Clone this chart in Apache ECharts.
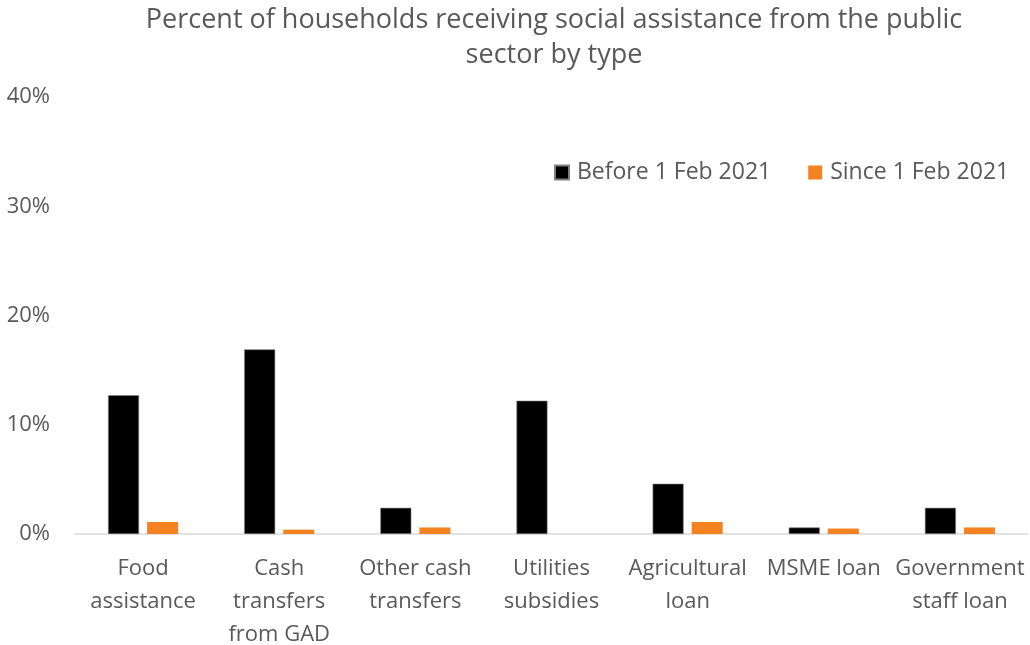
<!DOCTYPE html>
<html>
<head>
<meta charset="utf-8">
<script src="https://cdn.jsdelivr.net/npm/echarts@6/dist/echarts.min.js"></script>
<style>
  html, body { margin: 0; padding: 0; background: #fff; }
  #chart { width: 1030px; height: 645px; }
</style>
</head>
<body>
<div id="chart"></div>
<script>
// Assistance types shown along the x-axis
const categories = [
  'Food\nassistance',
  'Cash\ntransfers\nfrom GAD',
  'Other cash\ntransfers',
  'Utilities\nsubsidies',
  'Agricultural\nloan',
  'MSME loan',
  'Government\nstaff loan'
];

// Share of households (%) receiving each type of assistance
const beforeFeb2021 = [12.7, 16.9, 2.4, 12.2, 4.6, 0.6, 2.4];
const sinceFeb2021 = [1.1, 0.4, 0.6, 0, 1.1, 0.5, 0.6];

const yTicks = [0, 10, 20, 30, 40];

const FONT = '"Open Sans", "Noto Sans", sans-serif';
const GREY = '#595959';

const chart = echarts.init(document.getElementById('chart'), null, { renderer: 'canvas' });

chart.setOption({
  animation: false,
  backgroundColor: '#ffffff',
  title: {
    text: 'Percent of households receiving social assistance from the public\nsector by type',
    left: 549,
    top: -2,
    textAlign: 'center',
    textStyle: {
      fontFamily: FONT,
      fontSize: 27,
      fontWeight: 'normal',
      color: GREY,
      lineHeight: 35
    }
  },
  legend: {
    left: 549,
    top: 156,
    itemWidth: 14,
    itemHeight: 14,
    itemGap: 37,
    icon: 'rect',
    textStyle: {
      fontFamily: FONT,
      fontSize: 23,
      color: GREY,
      padding: [0, 0, 0, 3]
    },
    data: ['Before 1 Feb 2021', 'Since 1 Feb 2021']
  },
  grid: {
    left: 75,
    right: 2,
    top: 97,
    bottom: 111,
    containLabel: false,
    outerBoundsMode: 'none'
  },
  xAxis: {
    type: 'category',
    data: categories,
    axisLine: { lineStyle: { color: '#d9d9d9', width: 1.5 } },
    axisTick: { show: false },
    axisLabel: {
      interval: 0,
      margin: 18,
      fontFamily: FONT,
      fontSize: 22,
      lineHeight: 33,
      color: GREY
    }
  },
  yAxis: {
    type: 'value',
    min: yTicks[0],
    max: yTicks[yTicks.length - 1],
    interval: 10,
    axisLine: { show: false },
    axisTick: { show: false },
    splitLine: { show: false },
    axisLabel: {
      margin: 25,
      fontFamily: FONT,
      fontSize: 22,
      color: GREY,
      formatter: '{value}%'
    }
  },
  series: [
    {
      name: 'Before 1 Feb 2021',
      type: 'bar',
      data: beforeFeb2021,
      barWidth: 31,
      barGap: '26%',
      itemStyle: { color: '#000000', borderColor: '#7f7f7f', borderWidth: 0.6 }
    },
    {
      name: 'Since 1 Feb 2021',
      type: 'bar',
      data: sinceFeb2021,
      barWidth: 31,
      itemStyle: { color: '#f58220' }
    }
  ]
});
</script>
</body>
</html>
